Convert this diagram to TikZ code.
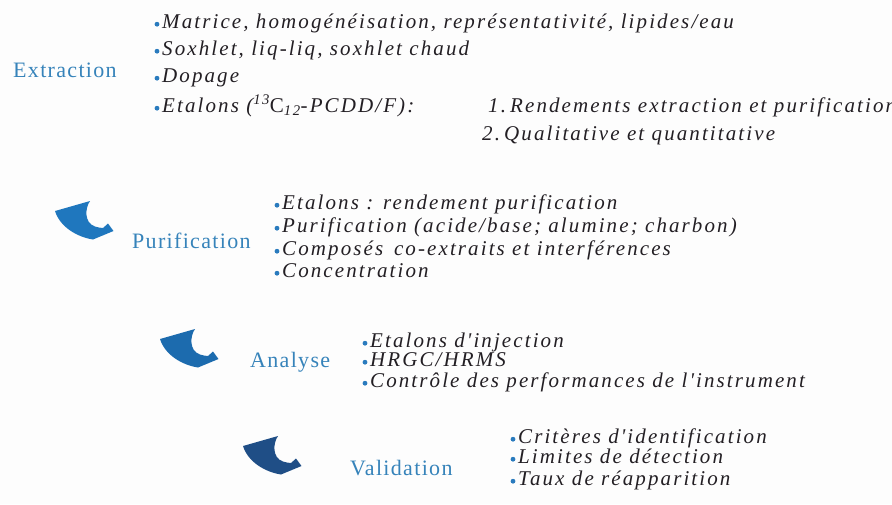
\documentclass[tikz,border=0pt]{standalone}
\usepackage{fontspec}
\setmainfont{Liberation Serif}
\newfontfamily\itemfont[LetterSpace=10]{Liberation Serif}
\newfontfamily\labfont[LetterSpace=6]{Liberation Serif}
\definecolor{bgc}{HTML}{FDFDFD}
\definecolor{txtc}{HTML}{231F24}
\definecolor{labc}{HTML}{3683BA}
\definecolor{bulc}{HTML}{2A7BBE}
\definecolor{arA}{HTML}{1F77BE}
\definecolor{arB}{HTML}{1C6BAE}
\definecolor{arC}{HTML}{1F4E86}
\begin{document}
\begin{tikzpicture}[x=1pt,y=-1pt,
  item/.style={anchor=base west, inner sep=0pt, text=txtc,
    font=\fontsize{21}{21}\itemfont\itshape},
  lab/.style={anchor=base west, inner sep=0pt, text=labc,
    font=\fontsize{22}{22}\labfont},
  hook/.pic={\fill[pic actions] (0,0) -- (35,-10)
      .. controls (30,-3) and (29,12) .. (40,15.5)
      .. controls (43,16.5) and (46,17) .. (48,17) -- (53,12.5) -- (58.5,20) -- (38,28.5)
      .. controls (22,26) and (5,16) .. cycle;}]
\useasboundingbox[fill=bgc] (0,0) rectangle (892,504);

% Extraction
\node[lab] (lext) at (13,77) {Extraction};
\node[item] (e1) at (162,28) {Matrice, homogénéisation, représentativité, lipides/eau};
\node[item] (e2) at (162,55) {Soxhlet, liq-liq, soxhlet chaud};
\node[item] (e3) at (162,82) {Dopage};
\node[item] (e4) at (162,112) {Etalons (\textsuperscript{13}{\upshape C}\textsubscript{12}-PCDD/F):};
\node[item] (n1) at (488,112) {\makebox[22pt][l]{1.}Rendements extraction et purification};
\node[item] (n2) at (482,140) {\makebox[22pt][l]{2.}Qualitative et quantitative};

% Purification
\pic[arA] (h1) at (55,211) {hook};
\node[lab] (lpur) at (132,248) {Purification};
\node[item] (p1) at (282,209) {Etalons : rendement purification};
\node[item] (p2) at (282,232) {Purification (acide/base; alumine; charbon)};
\node[item] (p3) at (282,255) {Composés\, co-extraits et interférences};
\node[item] (p4) at (282,277) {Concentration};

% Analyse
\pic[arB] (h2) at (160,339) {hook};
\node[lab] (lana) at (250,367) {Analyse};
\node[item] (a1) at (370,347) {Etalons d'injection};
\node[item] (a2) at (370,366) {HRGC/HRMS};
\node[item] (a3) at (370,387) {Contrôle des performances de l'instrument};

% Validation
\pic[arC] (h3) at (243,446) {hook};
\node[lab] (lval) at (350,475) {Validation};
\node[item] (v1) at (518,443) {Critères d'identification};
\node[item] (v2) at (518,463) {Limites de détection};
\node[item] (v3) at (518,485) {Taux de réapparition};

% bullets
\foreach \n in {e1,e2,e3,e4,p1,p2,p3,p4,a1,a2,a3,v1,v2,v3}
  \fill[bulc] ([xshift=-5pt,yshift=3.8pt]\n.base west) circle (2.4pt);
\end{tikzpicture}
\end{document}
